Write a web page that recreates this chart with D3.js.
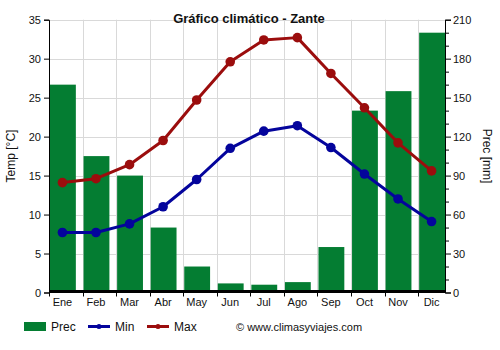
<!DOCTYPE html>
<html>
<head>
<meta charset="utf-8">
<script src="https://cdn.jsdelivr.net/npm/d3@7"></script>
<style>
  html, body { margin: 0; padding: 0; background: #fff; }
  svg { display: block; font-family: "Liberation Sans", Arial, sans-serif; }
</style>
</head>
<body>
<svg id="chart" width="500" height="350"></svg>
<script>
// Monthly climate data for Zante
const months = ["Ene", "Feb", "Mar", "Abr", "May", "Jun", "Jul", "Ago", "Sep", "Oct", "Nov", "Dic"];
const precip = [160, 105, 90, 50, 20, 7, 6, 8, 35, 140, 155, 200];
const tempMin = [7.7, 7.7, 8.8, 11.0, 14.5, 18.5, 20.7, 21.4, 18.6, 15.2, 12.0, 9.1];
const tempMax = [14.1, 14.6, 16.4, 19.5, 24.7, 29.6, 32.4, 32.7, 28.1, 23.7, 19.2, 15.6];
const tempTicks = [0, 5, 10, 15, 20, 25, 30, 35];
const precTicks = [0, 30, 60, 90, 120, 150, 180, 210];

const svg = d3.select("#chart");
const plotL = 49, plotR = 445, plotT = 19.7, plotB = 292.5;

const x = d3.scaleBand().domain(months).range([plotL, plotR]).paddingInner(0.2).paddingOuter(0);
const yT = d3.scaleLinear().domain([0, 35]).range([plotB, plotT]);
const yP = d3.scaleLinear().domain([0, 210]).range([plotB, plotT]);
const cx = m => x(m) + x.bandwidth() / 2;

const green = "#047d32", red = "#9b0d0d", blue = "#04049c";

// grid
const grid = svg.append("g").attr("stroke", "#d9d9d9").attr("stroke-width", 1);
tempTicks.filter(d => d > 0).forEach(t => {
  grid.append("line").attr("x1", plotL).attr("x2", plotR)
    .attr("y1", Math.round(yT(t)) + 0.5).attr("y2", Math.round(yT(t)) + 0.5);
});
months.slice(1).forEach(m => {
  grid.append("line").attr("x1", Math.round(x(m)) + 0.5).attr("x2", Math.round(x(m)) + 0.5)
    .attr("y1", plotT).attr("y2", plotB);
});

// precipitation bars
svg.append("g").selectAll("rect").data(months).join("rect")
  .attr("x", d => x(d) + 1)
  .attr("width", x.bandwidth() - 1)
  .attr("y", (d, i) => yP(precip[i]))
  .attr("height", (d, i) => plotB - yP(precip[i]))
  .attr("fill", green);

// baseline
svg.append("line").attr("x1", plotL).attr("x2", plotR)
  .attr("y1", plotB - 1).attr("y2", plotB - 1)
  .attr("stroke", "#000").attr("stroke-width", 3);

// axes
const axL = svg.append("g").attr("transform", `translate(${plotL},0)`)
  .call(d3.axisLeft(yT).tickValues(tempTicks).tickSize(5).tickPadding(3));
const axR = svg.append("g").attr("transform", `translate(${plotR},0)`)
  .call(d3.axisRight(yP).tickValues(precTicks).tickSize(6).tickPadding(2));
svg.append("g").attr("transform", `translate(${plotR},0)`)
  .call(d3.axisRight(yP).tickValues(d3.range(0, 211, 10).filter(v => v % 30 !== 0)).tickSize(4).tickFormat(""))
  .select(".domain").remove();
const axB = svg.append("g").attr("transform", `translate(0,${plotB})`)
  .call(d3.axisBottom(x).tickSize(0).tickPadding(6));
axB.select(".domain").remove();
// bottom ticks at the left edge of each bar
months.forEach(m => {
  svg.append("line").attr("x1", Math.round(x(m)) + 0.5).attr("x2", Math.round(x(m)) + 0.5)
    .attr("y1", plotB).attr("y2", plotB + 4).attr("stroke", "#000");
});
[axL, axR, axB].forEach(a => {
  a.selectAll("text").attr("font-size", 11).attr("fill", "#111")
    .attr("font-family", "'Liberation Sans', Arial, sans-serif");
  a.selectAll("line").attr("stroke", "#000");
  a.select(".domain").attr("stroke", "#000");
});

// temperature lines
const lineGen = vals => d3.line()
  .x((d, i) => cx(months[i]))
  .y(d => yT(d))(vals);
[[tempMax, red], [tempMin, blue]].forEach(([vals, col]) => {
  svg.append("path").attr("d", lineGen(vals)).attr("fill", "none")
    .attr("stroke", col).attr("stroke-width", 3).attr("stroke-linejoin", "round");
  svg.append("g").selectAll("circle").data(vals).join("circle")
    .attr("cx", (d, i) => cx(months[i]))
    .attr("cy", d => yT(d)).attr("r", 4.8).attr("fill", col);
});

// title and axis titles
svg.append("text").attr("x", 249).attr("y", 23).attr("text-anchor", "middle")
  .attr("font-size", 13).attr("font-weight", "bold").attr("fill", "#111")
  .text("Gráfico climático - Zante");
svg.append("text").attr("transform", "translate(15,156) rotate(-90)")
  .attr("text-anchor", "middle").attr("font-size", 12).attr("fill", "#111").text("Temp [°C]");
svg.append("text").attr("transform", "translate(483,156) rotate(90)")
  .attr("text-anchor", "middle").attr("font-size", 12).attr("fill", "#111").text("Prec [mm]");

// legend
const lg = svg.append("g").attr("font-size", 12).attr("fill", "#111");
lg.append("rect").attr("x", 24).attr("y", 322).attr("width", 22).attr("height", 9).attr("fill", green);
lg.append("text").attr("x", 51).attr("y", 331).text("Prec");
[[88, blue, "Min"], [147, red, "Max"]].forEach(([lx, col, label]) => {
  lg.append("line").attr("x1", lx).attr("x2", lx + 22).attr("y1", 326.5).attr("y2", 326.5)
    .attr("stroke", col).attr("stroke-width", 3);
  lg.append("circle").attr("cx", lx + 11).attr("cy", 326.5).attr("r", 2.5).attr("fill", col);
  lg.append("text").attr("x", lx + 27).attr("y", 331).text(label);
});
lg.append("text").attr("x", 236).attr("y", 331).attr("font-size", 11).text("© www.climasyviajes.com");
</script>
</body>
</html>
